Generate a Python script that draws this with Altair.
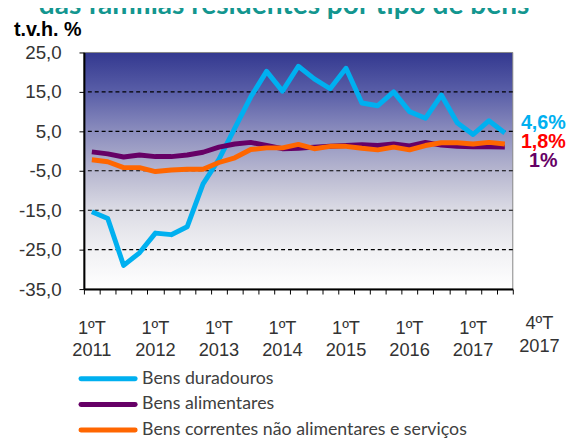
import altair as alt
import pandas as pd

# ---------------- data ----------------
quarter_idx = list(range(27))
bens_duradouros = [-15.4, -17.1, -29.0, -25.8, -20.8, -21.2, -19.2, -8.3, -2.1, 5.8, 13.7, 20.2,
                   15.2, 21.5, 18.3, 15.8, 21.0, 12.2, 11.5, 15.0, 10.0, 8.3, 14.2, 7.2, 4.2, 7.7, 4.6]
bens_alimentares = [-0.2, -0.7, -1.5, -1.0, -1.4, -1.4, -1.0, -0.3, 1.0, 1.8, 2.2, 1.4,
                    0.6, 0.7, 1.0, 1.2, 1.4, 1.6, 1.4, 1.8, 1.3, 2.2, 1.5, 1.2, 1.1, 1.1, 1.0]
bens_correntes = [-2.2, -2.7, -4.2, -4.2, -5.2, -4.8, -4.6, -4.6, -2.9, -1.7, 0.4, 0.8,
                  0.8, 1.7, 0.6, 1.2, 1.2, 0.7, 0.3, 1.0, 0.3, 1.4, 2.1, 2.1, 1.8, 2.2, 1.8]

series_names = ["Bens duradouros", "Bens alimentares",
                "Bens correntes não alimentares e serviços"]
series_colors = ["#00B0F0", "#660066", "#FF6600"]
series_values = [bens_duradouros, bens_alimentares, bens_correntes]

label_idx = [0, 4, 8, 12, 16, 20, 24]
label_text = ["1ºT\n2011", "1ºT\n2012", "1ºT\n2013", "1ºT\n2014",
              "1ºT\n2015", "1ºT\n2016", "1ºT\n2017"]
grid_values = [15, 5, -5, -15, -25]
y_ticks = [-35, -25, -15, -5, 5, 15, 25]
end_labels = ["4,6%", "1,8%", "1%"]
end_colors = ["#00B0F0", "#FF0000", "#660066"]

title_text = "das famílias residentes por tipo de bens"
unit_text = "t.v.h. %"
last_label = "4ºT\n2017"

TXT = "#333333"

# ---------------- scales / axes ----------------
x_enc = alt.X(
    "idx:Q",
    scale=alt.Scale(domain=[-0.5, 26.5], nice=False, zero=False),
    axis=alt.Axis(values=[i - 0.5 for i in range(28)], labels=False, ticks=True,
                  tickSize=5, tickColor="black", tickWidth=1,
                  domainColor="black", domainWidth=2, grid=False, title=None, zindex=1),
)
y_enc = alt.Y(
    "value:Q",
    scale=alt.Scale(domain=[-35, 25], nice=False, zero=False),
    axis=alt.Axis(values=y_ticks, grid=False, title=None, tickSize=5, tickColor="black",
                  tickWidth=1, domainColor="black", domainWidth=2, labelPadding=18,
                  labelFont="Liberation Sans", labelFontSize=19, labelColor=TXT,
                  labelExpr="(datum.value < 0 ? '-' : '') + replace(format(abs(datum.value), '.1f'), '.', ',')",
                  zindex=1),
)

gradient = alt.Gradient(
    gradient="linear",
    stops=[
        alt.GradientStop(color="#33388F", offset=0),
        alt.GradientStop(color="#5A5FA8", offset=0.17),
        alt.GradientStop(color="#8A8CBD", offset=0.33),
        alt.GradientStop(color="#B6B6CF", offset=0.5),
        alt.GradientStop(color="#DCDCE5", offset=0.67),
        alt.GradientStop(color="#F0F0F3", offset=0.83),
        alt.GradientStop(color="#FFFFFF", offset=1),
    ],
    x1=0, x2=0, y1=0, y2=1,
)

one = pd.DataFrame({"a": [0]})
background = alt.Chart(one).mark_rect(fill=gradient, stroke="#868686", strokeWidth=1).encode(
    x=alt.value(0), x2=alt.value("width"), y=alt.value(0), y2=alt.value("height")
)

grid_df = pd.DataFrame({"value": grid_values})
grid = alt.Chart(grid_df).mark_rule(color="black", strokeDash=[4, 3], strokeWidth=1.2).encode(
    y=y_enc
)

layers = [background, grid]
for name, col, vals in zip(series_names, series_colors, series_values):
    df = pd.DataFrame({"idx": quarter_idx, "value": vals, "series": name})
    layers.append(
        alt.Chart(df).mark_line(color=col, strokeWidth=5, strokeJoin="round", strokeCap="butt")
        .encode(x=x_enc, y=y_enc)
    )

# x labels
xl_df = pd.DataFrame({"idx": label_idx, "label": label_text})
xlabels = alt.Chart(xl_df).mark_text(
    font="Liberation Sans", fontSize=18.5, color=TXT, lineBreak="\n",
    lineHeight=22, baseline="alphabetic", align="center"
).encode(x=x_enc, y=alt.value(286), text="label:N")
layers.append(xlabels)

last_df = pd.DataFrame({"label": [last_label]})
layers.append(alt.Chart(last_df).mark_text(
    font="Liberation Sans", fontSize=18.5, color=TXT, lineBreak="\n",
    lineHeight=24, baseline="alphabetic", align="center"
).encode(x=alt.value(462), y=alt.value(280), text="label:N"))

# end value labels
for i, (t, c) in enumerate(zip(end_labels, end_colors)):
    layers.append(alt.Chart(pd.DataFrame({"t": [t]})).mark_text(
        font="Liberation Sans", fontSize=20, fontWeight="bold", color=c,
        align="center", baseline="alphabetic"
    ).encode(x=alt.value(466), y=alt.value(78 + 19 * i), text="t:N"))

# title and unit
layers.append(alt.Chart(pd.DataFrame({"t": [title_text]})).mark_text(
    font="Lato", fontSize=28.5, fontWeight="bold", color="#13968F", align="center",
    baseline="alphabetic"
).encode(x=alt.value(203), y=alt.value(-39), text="t:N"))
layers.append(alt.Chart(pd.DataFrame({"t": [unit_text]})).mark_text(
    font="Liberation Sans", fontSize=20, fontWeight="bold", color="black", align="left",
    baseline="alphabetic"
).encode(x=alt.value(-71), y=alt.value(-17), text="t:N"))

# legend
for i, (name, col) in enumerate(zip(series_names, series_colors)):
    ly = 331 + 26 * i
    layers.append(alt.Chart(one).mark_rule(color=col, strokeWidth=5, strokeCap="round").encode(
        x=alt.value(-3), x2=alt.value(52), y=alt.value(ly)))
    layers.append(alt.Chart(pd.DataFrame({"t": [name]})).mark_text(
        font="Lato", fontSize=18, color="#404040", align="left", baseline="middle"
    ).encode(x=alt.value(59), y=alt.value(ly), text="t:N"))

chart = alt.layer(*layers).properties(
    width=435, height=240,
    autosize=alt.AutoSizeParams(type="none"),
    padding={"left": 77, "top": 42, "right": 56, "bottom": 153},
).configure_view(stroke=None)

chart.save("out.html", embed_options={"renderer": "svg", "actions": False})
